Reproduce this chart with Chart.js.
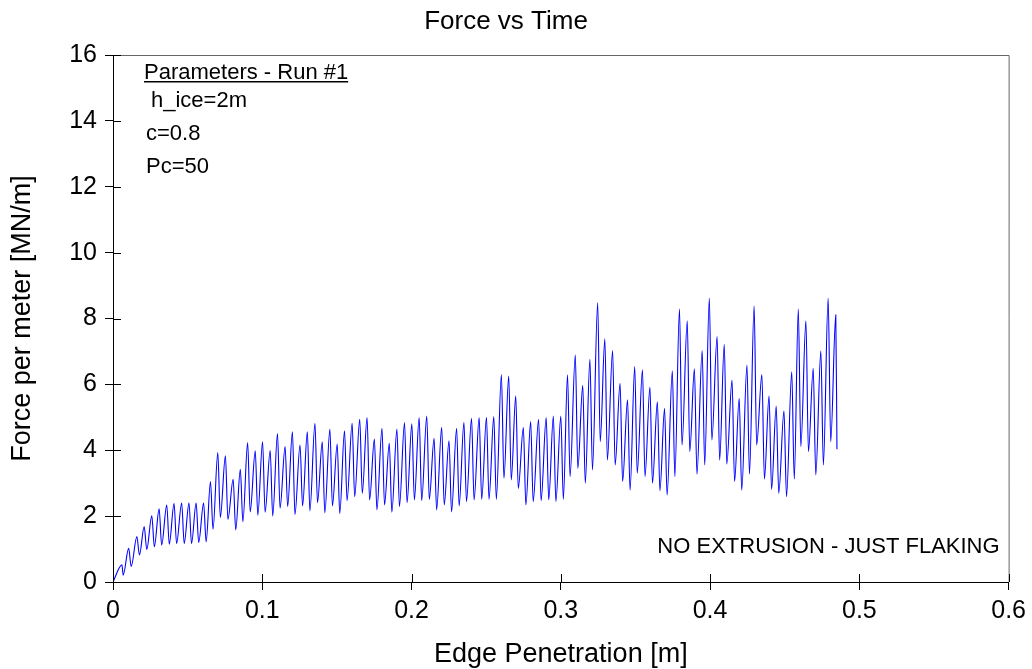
<!DOCTYPE html>
<html>
<head>
<meta charset="utf-8">
<script src="https://cdn.jsdelivr.net/npm/chart.js@4"></script>
<style>
  html, body { margin: 0; padding: 0; background: #fff; }
  #wrap { width: 1032px; height: 669px; }
</style>
</head>
<body>
<div id="wrap"><canvas id="chart" width="1032" height="669"></canvas></div>
<script>
// edge penetration [m] and force [MN/m] at each crest of the trace
const peakX = [
  0.0060, 0.0105, 0.0160, 0.0209, 0.0260, 0.0309, 0.0360, 0.0409, 0.0460, 0.0509,
  0.0557, 0.0607, 0.0653, 0.0702, 0.0753, 0.0805, 0.0853, 0.0902, 0.0953, 0.1002,
  0.1053, 0.1102, 0.1153, 0.1202, 0.1253, 0.1302, 0.1353, 0.1402, 0.1453, 0.1502,
  0.1551, 0.1602, 0.1653, 0.1702, 0.1751, 0.1802, 0.1851, 0.1902, 0.1953, 0.2002,
  0.2051, 0.2102, 0.2151, 0.2202, 0.2251, 0.2302, 0.2351, 0.2402, 0.2453, 0.2502,
  0.2551, 0.2602, 0.2651, 0.2698, 0.2749, 0.2798, 0.2851, 0.2902, 0.2950, 0.3000,
  0.3045, 0.3097, 0.3147, 0.3195, 0.3247, 0.3295, 0.3347, 0.3397, 0.3447, 0.3495,
  0.3547, 0.3597, 0.3647, 0.3695, 0.3747, 0.3795, 0.3847, 0.3895, 0.3947, 0.3995,
  0.4047, 0.4095, 0.4147, 0.4195, 0.4247, 0.4295, 0.4347, 0.4395, 0.4443, 0.4495,
  0.4547, 0.4591, 0.4642, 0.4691, 0.4742, 0.4791, 0.4842
];
const peakF = [
  0.52, 1.02, 1.38, 1.68, 2.01, 2.22, 2.34, 2.38, 2.40, 2.40,
  2.40, 2.40, 3.05, 3.93, 3.83, 3.12, 3.42, 4.23, 3.98, 4.26,
  3.99, 4.51, 4.11, 4.56, 4.16, 4.56, 4.82, 4.26, 4.64, 4.19,
  4.59, 4.82, 4.94, 4.99, 4.34, 4.67, 4.21, 4.64, 4.84, 4.80,
  4.99, 5.04, 4.36, 4.70, 4.29, 4.67, 4.85, 4.97, 4.99, 5.00,
  5.02, 6.30, 6.25, 5.65, 4.69, 4.87, 4.94, 4.99, 5.04, 5.04,
  6.29, 6.90, 5.97, 6.76, 8.48, 7.38, 7.03, 6.03, 5.53, 6.54,
  6.44, 5.92, 5.47, 5.27, 6.41, 8.29, 7.93, 6.47, 7.03, 8.61,
  7.45, 7.22, 6.13, 5.58, 6.59, 8.38, 6.30, 5.65, 5.34, 5.20,
  6.38, 8.29, 7.93, 6.49, 7.02, 8.61, 8.11
];
// the dip that follows each crest (last one is the end of the record)
const troughX = [
  0.0068, 0.0122, 0.0177, 0.0226, 0.0277, 0.0326, 0.0377, 0.0426, 0.0477, 0.0526,
  0.0574, 0.0624, 0.0670, 0.0719, 0.0770, 0.0822, 0.0870, 0.0919, 0.0970, 0.1019,
  0.1070, 0.1119, 0.1170, 0.1219, 0.1270, 0.1319, 0.1370, 0.1419, 0.1470, 0.1519,
  0.1568, 0.1619, 0.1670, 0.1719, 0.1768, 0.1819, 0.1868, 0.1919, 0.1970, 0.2019,
  0.2068, 0.2119, 0.2168, 0.2219, 0.2268, 0.2319, 0.2368, 0.2419, 0.2470, 0.2519,
  0.2568, 0.2619, 0.2668, 0.2715, 0.2766, 0.2815, 0.2868, 0.2919, 0.2967, 0.3017,
  0.3062, 0.3114, 0.3164, 0.3212, 0.3264, 0.3312, 0.3364, 0.3414, 0.3464, 0.3512,
  0.3564, 0.3614, 0.3664, 0.3712, 0.3764, 0.3812, 0.3864, 0.3912, 0.3964, 0.4012,
  0.4064, 0.4112, 0.4164, 0.4212, 0.4264, 0.4312, 0.4364, 0.4412, 0.4460, 0.4512,
  0.4564, 0.4608, 0.4659, 0.4708, 0.4759, 0.4808, 0.4850
];
const troughF = [
  0.21, 0.47, 0.82, 0.99, 1.07, 1.12, 1.15, 1.17, 1.17, 1.17,
  1.20, 1.22, 1.60, 1.96, 1.90, 1.58, 1.83, 2.13, 2.03, 2.12,
  2.00, 2.24, 2.29, 2.05, 2.31, 2.16, 2.41, 2.10, 2.31, 2.08,
  2.47, 2.59, 2.69, 2.49, 2.19, 2.34, 2.12, 2.29, 2.41, 2.49,
  2.47, 2.51, 2.19, 2.34, 2.13, 2.31, 2.44, 2.49, 2.51, 2.51,
  2.51, 3.15, 3.10, 2.84, 2.34, 2.44, 2.47, 2.49, 2.44, 2.51,
  3.20, 3.45, 3.00, 3.40, 4.26, 3.70, 3.55, 3.05, 2.79, 3.30,
  3.20, 3.00, 2.77, 2.64, 3.20, 4.16, 3.96, 3.27, 3.55, 4.31,
  3.70, 3.58, 3.05, 2.79, 3.28, 4.16, 3.12, 2.81, 2.69, 2.59,
  3.12, 4.11, 3.96, 3.25, 3.55, 4.26, 4.03
];
const paramLines = ["h_ice=2m", "c=0.8", "Pc=50"];

const FONT = "'Liberation Sans', Arial, sans-serif";

// start at origin, then crest / dip pairs
const points = [{ x: 0, y: 0 }];
for (let i = 0; i < peakX.length; i++) {
  points.push({ x: peakX[i], y: peakF[i] });
  points.push({ x: troughX[i], y: troughF[i] });
}

// inward half of the tick marks, the grey frame and the text boxes
const extras = {
  id: "extras",
  afterDraw(chart) {
    const { ctx, chartArea: a, scales } = chart;
    ctx.save();
    ctx.strokeStyle = "#666";
    ctx.lineWidth = 1;
    ctx.beginPath();
    ctx.moveTo(a.left, a.top + 0.5);
    ctx.lineTo(a.right + 0.5, a.top + 0.5);
    ctx.lineTo(a.right + 0.5, a.bottom);
    ctx.stroke();

    ctx.strokeStyle = "#000";
    ctx.beginPath();
    scales.x.ticks.forEach((t) => {
      const px = Math.round(scales.x.getPixelForValue(t.value)) + 0.5;
      ctx.moveTo(px, a.bottom);
      ctx.lineTo(px, a.bottom - 8);
    });
    scales.y.ticks.forEach((t) => {
      const py = Math.round(scales.y.getPixelForValue(t.value)) + 0.5;
      ctx.moveTo(a.left, py);
      ctx.lineTo(a.left + 8, py);
    });
    ctx.stroke();

    ctx.fillStyle = "#000";
    ctx.font = "22px " + FONT;
    ctx.textBaseline = "alphabetic";
    ctx.textAlign = "left";
    const head = "Parameters - Run #1";
    ctx.fillText(head, a.left + 31, 79);
    const w = ctx.measureText(head).width;
    ctx.fillRect(a.left + 31, 81, w, 1.5);
    ctx.fillText(paramLines[0], a.left + 38, 107);
    ctx.fillText(paramLines[1], a.left + 33, 140);
    ctx.fillText(paramLines[2], a.left + 33, 173);

    ctx.textAlign = "right";
    ctx.fillText("NO EXTRUSION - JUST FLAKING", a.right - 9, 553);
    ctx.restore();
  },
};

new Chart(document.getElementById("chart").getContext("2d"), {
  type: "line",
  data: {
    datasets: [
      {
        label: "Force",
        data: points,
        borderColor: "#0000ff",
        borderWidth: 1.1,
        pointRadius: 0,
        fill: false,
        cubicInterpolationMode: "monotone",
      },
    ],
  },
  options: {
    responsive: false,
    animation: false,
    devicePixelRatio: 1,
    parsing: false,
    layout: { padding: { left: 0, right: 20, top: 0, bottom: 0 } },
    scales: {
      x: {
        type: "linear",
        min: 0,
        max: 0.6,
        afterFit: (s) => { s.height = 87; },
        ticks: {
          stepSize: 0.1,
          color: "#000",
          padding: 6,
          maxRotation: 0,
          font: { family: FONT, size: 25 },
        },
        grid: { drawOnChartArea: false, drawTicks: true, tickLength: 8, color: "#000" },
        border: { color: "#000", width: 1 },
        title: {
          display: true,
          text: "Edge Penetration [m]",
          color: "#000",
          font: { family: FONT, size: 27 },
          padding: { top: 0, bottom: -2 },
        },
      },
      y: {
        min: 0,
        max: 16,
        afterFit: (s) => { s.width = 113; },
        ticks: {
          stepSize: 2,
          color: "#000",
          padding: 8,
          font: { family: FONT, size: 25 },
        },
        grid: { drawOnChartArea: false, drawTicks: true, tickLength: 8, color: "#000" },
        border: { color: "#000", width: 1 },
        title: {
          display: true,
          text: "Force per meter [MN/m]",
          color: "#000",
          font: { family: FONT, size: 27 },
          padding: { top: 6, bottom: 0 },
        },
      },
    },
    plugins: {
      legend: { display: false },
      tooltip: { enabled: false },
      title: {
        display: true,
        text: "Force vs Time",
        color: "#000",
        font: { family: FONT, size: 26, weight: "normal" },
        padding: { top: 6.4, bottom: 17.4 },
      },
    },
  },
  plugins: [extras],
});
</script>
</body>
</html>
